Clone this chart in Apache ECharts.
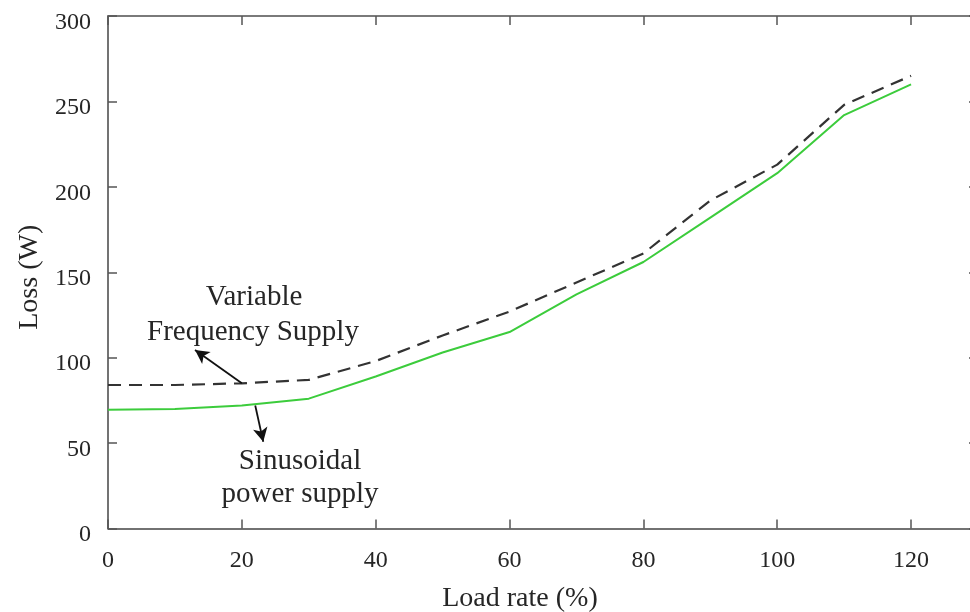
<!DOCTYPE html>
<html>
<head>
<meta charset="utf-8">
<script src="https://cdn.jsdelivr.net/npm/echarts@6/dist/echarts.min.js"></script>
<style>
  html, body { margin: 0; padding: 0; background: #fff; }
  #chart { width: 970px; height: 612px; }
</style>
</head>
<body>
<div id="chart"></div>
<script>
// Load rate (%) sampled every 10 %
const loadRate = [0, 10, 20, 30, 40, 50, 60, 70, 80, 90, 100, 110, 120];
// Loss (W) under a variable frequency supply
const variableFreqLoss = [84, 84, 85, 87, 98, 113, 127, 144, 161, 192, 213, 248, 265];
// Loss (W) under a sinusoidal power supply
const sinusoidalLoss = [69.5, 70, 72, 76, 89, 103, 115, 137, 156, 182, 208, 242, 260];
// Axis ranges and tick steps
const xRange = [0, 130];
const yRange = [0, 300];
const xStep = 20;
const yStep = 50;
// Callout arrows: [start point on curve, arrow tip] in data units
const vfArrow = [[20, 85], [13, 104.5]];
const sinArrow = [[22, 72], [23.2, 50.8]];

const pairs = (xs, ys) => xs.map((x, i) => [x, ys[i]]);
const serif = '"Liberation Serif", "DejaVu Serif", serif';
const textColor = '#262626';

const chart = echarts.init(document.getElementById('chart'), null, { renderer: 'canvas' });

const tickStyle = { show: true, inside: true, length: 9, lineStyle: { color: '#555', width: 1.5 } };

chart.setOption({
  backgroundColor: '#ffffff',
  animation: false,
  grid: { left: 108, top: 16, width: 870, height: 512.5, containLabel: false, outerBoundsMode: 'none' },
  xAxis: [
    {
      type: 'value', min: xRange[0], max: xRange[1], interval: xStep,
      name: 'Load rate (%)', nameLocation: 'middle', nameGap: 56,
      nameTextStyle: { fontFamily: serif, fontSize: 28, color: textColor, padding: [0, 46, 0, 0] },
      axisLine: { show: true, onZero: false, lineStyle: { color: '#444', width: 1.5 } },
      axisTick: tickStyle,
      axisLabel: { margin: 20, fontFamily: serif, fontSize: 24, color: textColor, showMaxLabel: false },
      splitLine: { show: false }
    },
    {
      type: 'value', position: 'top', min: xRange[0], max: xRange[1], interval: xStep,
      axisLine: { show: true, onZero: false, lineStyle: { color: '#7a7a7a', width: 2 } },
      axisTick: tickStyle,
      axisLabel: { show: false },
      splitLine: { show: false }
    }
  ],
  yAxis: [
    {
      type: 'value', min: yRange[0], max: yRange[1], interval: yStep,
      name: 'Loss (W)', nameLocation: 'middle', nameGap: 60,
      nameTextStyle: { fontFamily: serif, fontSize: 28, color: textColor, padding: [0, 10, 0, 0] },
      axisLine: { show: true, onZero: false, lineStyle: { color: '#444', width: 1.5 } },
      axisTick: tickStyle,
      axisLabel: {
        margin: 17, fontFamily: serif, fontSize: 24, color: textColor,
        verticalAlign: 'top', lineHeight: 13
      },
      splitLine: { show: false }
    },
    {
      type: 'value', position: 'right', min: yRange[0], max: yRange[1], interval: yStep,
      axisLine: { show: true, onZero: false, lineStyle: { color: '#444', width: 1.5 } },
      axisTick: tickStyle,
      axisLabel: { show: false },
      splitLine: { show: false }
    }
  ],
  series: [
    {
      name: 'Variable Frequency Supply',
      type: 'line',
      data: pairs(loadRate, variableFreqLoss),
      showSymbol: false,
      lineStyle: { color: '#333333', width: 2.2, type: [13, 8] },
      z: 3,
      markLine: {
        silent: true,
        symbol: ['none', 'arrow'],
        symbolSize: [11, 14],
        label: { show: false },
        lineStyle: { color: '#111', width: 1.8, type: 'solid' },
        data: [[{ coord: vfArrow[0] }, { coord: vfArrow[1] }]]
      }
    },
    {
      name: 'Sinusoidal power supply',
      type: 'line',
      data: pairs(loadRate, sinusoidalLoss),
      showSymbol: false,
      lineStyle: { color: '#3ccc3c', width: 2 },
      z: 2,
      markLine: {
        silent: true,
        symbol: ['none', 'arrow'],
        symbolSize: [11, 14],
        label: { show: false },
        lineStyle: { color: '#111', width: 1.8, type: 'solid' },
        data: [[{ coord: sinArrow[0] }, { coord: sinArrow[1] }]]
      }
    }
  ],
  graphic: [
    { type: 'text', x: 254, y: 297, style: { text: 'Variable', font: '29px ' + serif, fill: textColor, align: 'center', verticalAlign: 'middle' } },
    { type: 'text', x: 253, y: 332, style: { text: 'Frequency Supply', font: '29px ' + serif, fill: textColor, align: 'center', verticalAlign: 'middle' } },
    { type: 'text', x: 300, y: 461, style: { text: 'Sinusoidal', font: '29px ' + serif, fill: textColor, align: 'center', verticalAlign: 'middle' } },
    { type: 'text', x: 300, y: 494, style: { text: 'power supply', font: '29px ' + serif, fill: textColor, align: 'center', verticalAlign: 'middle' } }
  ]
});
</script>
</body>
</html>
